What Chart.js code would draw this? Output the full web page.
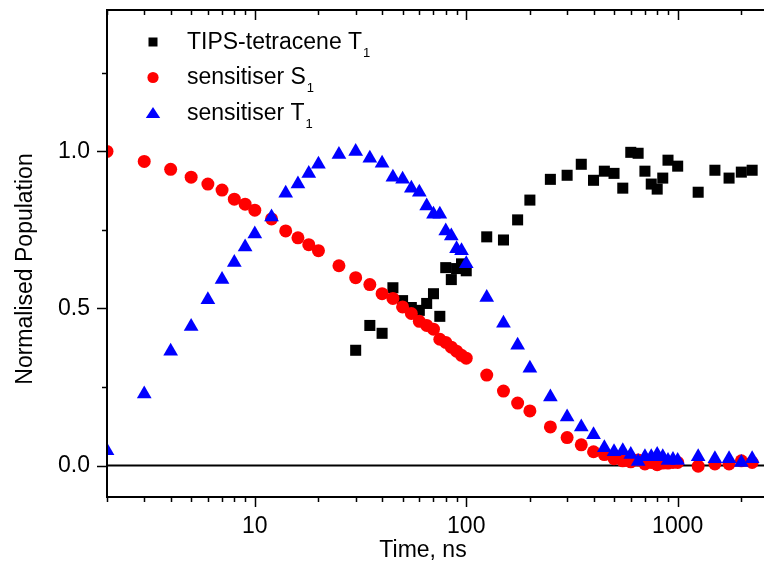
<!DOCTYPE html>
<html>
<head>
<meta charset="utf-8">
<script src="https://cdn.jsdelivr.net/npm/chart.js@4.4.0/dist/chart.umd.min.js"></script>
<style>
  html, body { margin: 0; padding: 0; background: #fff; overflow: hidden; }
  #wrap { width: 764px; height: 564px; position: relative; }
</style>
</head>
<body>
<div id="wrap"><canvas id="chart"></canvas></div>
<script>
// time axis (ns) shared by both sensitiser series
const times = [2, 3, 4, 5, 6, 7, 8, 9, 10, 12, 14, 16, 18, 20, 25, 30, 35, 40, 45, 50, 55, 60, 65, 70, 75, 80, 85, 90, 95, 100,
  125, 150, 175, 200, 250, 300, 350, 400, 450, 500, 550, 600, 650, 700, 750, 800, 850, 900, 950, 1000, 1250, 1500, 1750, 2000, 2250]
const sensS1 = [1.0, 0.968, 0.943, 0.918, 0.896, 0.877, 0.848, 0.832, 0.813, 0.785, 0.747, 0.725, 0.703, 0.684, 0.636, 0.598, 0.576, 0.547, 0.532, 0.505,
  0.484, 0.459, 0.446, 0.434, 0.402, 0.392, 0.377, 0.364, 0.351, 0.342, 0.288, 0.237, 0.199, 0.174, 0.123, 0.089, 0.066, 0.044, 0.035, 0.022,
  0.015, 0.012, 0.018, 0.005, 0.01, 0.003, 0.008, 0.008, 0.01, 0.01, -0.002, 0.005, 0.005, 0.015, 0.01]
const sensT1 = [0.047, 0.228, 0.364, 0.443, 0.528, 0.592, 0.646, 0.696, 0.737, 0.791, 0.867, 0.896, 0.930, 0.959, 0.99, 1.0, 0.978, 0.962, 0.918, 0.911,
  0.883, 0.870, 0.826, 0.80, 0.80, 0.747, 0.731, 0.690, 0.684, 0.642, 0.535, 0.453, 0.383, 0.310, 0.218, 0.155, 0.123, 0.098, 0.057, 0.044,
  0.047, 0.035, 0.013, 0.028, 0.028, 0.035, 0.028, 0.016, 0.019, 0.016, 0.028, 0.022, 0.022, 0.01, 0.022]

const tipsTimes = [30, 35, 40, 45, 50, 55, 60, 65, 70, 75, 80, 85, 90, 95, 100, 125, 150, 175, 200, 250, 300, 350, 400, 450, 500,
  550, 600, 650, 700, 750, 800, 850, 900, 1000, 1250, 1500, 1750, 2000, 2250]
const tipsT1 = [0.367, 0.446, 0.421, 0.566, 0.525, 0.503, 0.494, 0.516, 0.547, 0.475, 0.63, 0.592, 0.627, 0.642, 0.62, 0.728, 0.718, 0.782, 0.845, 0.911,
  0.924, 0.959, 0.908, 0.937, 0.930, 0.883, 0.997, 0.994, 0.937, 0.896, 0.880, 0.915, 0.972, 0.953, 0.870, 0.940, 0.915, 0.934, 0.940]

const seriesNames = ['TIPS-tetracene T', 'sensitiser S', 'sensitiser T']
const seriesSubs = ['1', '1', '1']
const seriesColors = ['#000000', '#ff0000', '#0000ff']
const seriesStyles = ['rect', 'circle', 'triangle']

const yTickValues = [0, 0.5, 1.0]
const yMinorTicks = [0.25, 0.75, 1.25]
const xTickLabels = [10, 100, 1000]

const FONT = '"Liberation Sans", Arial, sans-serif'

const toPoints = (xs, ys) => xs.map((x, i) => ({ x: x, y: ys[i] }))

// axes frame, ticks, titles and legend (Origin style)
const framePlugin = {
  id: 'frame',
  beforeDatasetsDraw(chart) {
    const ctx = chart.ctx
    const a = chart.chartArea
    const y0 = chart.scales.y.getPixelForValue(0)
    ctx.save()
    ctx.strokeStyle = '#000'
    ctx.lineWidth = 2
    ctx.beginPath()
    ctx.moveTo(a.left, y0)
    ctx.lineTo(a.right, y0)
    ctx.stroke()
    ctx.restore()
  },
  afterDatasetsDraw(chart) {
    const ctx = chart.ctx
    const a = chart.chartArea
    const xs = chart.scales.x
    const ys = chart.scales.y
    ctx.save()
    ctx.strokeStyle = '#000'
    ctx.lineWidth = 2
    ctx.beginPath()
    ctx.moveTo(a.right + 2, a.top)
    ctx.lineTo(a.left, a.top)
    ctx.lineTo(a.left, a.bottom)
    ctx.lineTo(a.right + 2, a.bottom)
    ctx.stroke()

    // x ticks: bottom outward, top inward
    ctx.lineWidth = 1.5
    ctx.beginPath()
    for (let dec = 1; dec <= 1000; dec *= 10) {
      for (let m = 1; m <= 9; m++) {
        const v = m * dec
        if (v < xs.min || v > xs.max) continue
        const px = Math.round(xs.getPixelForValue(v)) + 0.5
        const len = m === 1 ? 10 : 5
        ctx.moveTo(px, a.bottom)
        ctx.lineTo(px, a.bottom + len)
        ctx.moveTo(px, a.top)
        ctx.lineTo(px, a.top + len)
      }
    }
    // y ticks outward
    yTickValues.concat(yMinorTicks).forEach((v) => {
      const py = Math.round(ys.getPixelForValue(v)) + 0.5
      const len = yTickValues.includes(v) ? 10 : 5
      ctx.moveTo(a.left, py)
      ctx.lineTo(a.left - len, py)
    })
    ctx.stroke()

    // axis titles
    ctx.fillStyle = '#000'
    ctx.font = '23px ' + FONT
    ctx.textAlign = 'center'
    ctx.textBaseline = 'alphabetic'
    ctx.fillText('Time, ns', 423, 557)
    ctx.save()
    ctx.translate(32, 269)
    ctx.rotate(-Math.PI / 2)
    ctx.fillText('Normalised Population', 0, 0)
    ctx.restore()

    // legend
    ctx.textAlign = 'left'
    seriesNames.forEach((name, i) => {
      const mx = 153
      const my = 42 + 35.5 * i
      ctx.fillStyle = seriesColors[i]
      ctx.beginPath()
      if (seriesStyles[i] === 'rect') {
        ctx.rect(mx - 4.5, my - 4.5, 9, 9)
      } else if (seriesStyles[i] === 'circle') {
        ctx.arc(mx, my, 5.6, 0, Math.PI * 2)
      } else {
        ctx.moveTo(mx, my - 6)
        ctx.lineTo(mx + 7.2, my + 5)
        ctx.lineTo(mx - 7.2, my + 5)
        ctx.closePath()
      }
      ctx.fill()

      const by = 48.5 + 35.8 * i
      ctx.fillStyle = '#000'
      ctx.font = '23px ' + FONT
      ctx.fillText(name, 187, by)
      const w = ctx.measureText(name).width
      ctx.font = '13px ' + FONT
      ctx.fillText(seriesSubs[i], 187 + w + 1, by + 8)
    })
    ctx.restore()
  }
}

new Chart(document.getElementById('chart'), {
  type: 'scatter',
  data: {
    datasets: [
      {
        label: seriesNames[0] + '₁',
        data: toPoints(tipsTimes, tipsT1),
        pointStyle: 'rect',
        pointRadius: 7.8,
        pointHoverRadius: 7.8,
        backgroundColor: seriesColors[0],
        borderWidth: 0,
        order: 3,
      },
      {
        label: seriesNames[1] + '₁',
        data: toPoints(times, sensS1),
        pointStyle: 'circle',
        pointRadius: 6.5,
        pointHoverRadius: 6.5,
        backgroundColor: seriesColors[1],
        borderWidth: 0,
        order: 2,
      },
      {
        label: seriesNames[2] + '₁',
        data: toPoints(times, sensT1),
        pointStyle: 'triangle',
        pointRadius: 8.5,
        pointHoverRadius: 8.5,
        backgroundColor: seriesColors[2],
        borderWidth: 0,
        order: 1,
      },
    ],
  },
  options: {
    responsive: true,
    maintainAspectRatio: false,
    animation: false,
    // no auto padding for the point radius: the plot runs to the canvas edge
    layout: { autoPadding: false, padding: { top: 10, left: 0, right: 0, bottom: 0 } },
    plugins: {
      legend: { display: false },
      tooltip: { enabled: false },
    },
    scales: {
      x: {
        type: 'logarithmic',
        min: 2,
        max: 2560,
        grid: { display: false, drawTicks: false },
        border: { display: false },
        ticks: {
          autoSkip: false,
          maxRotation: 0,
          padding: 16,
          color: '#000',
          font: { family: FONT, size: 23 },
          callback: (v) => {
            const t = xTickLabels.find((t) => Math.abs(t - v) < 1e-6 * t)
            return t ? String(t) : ''
          },
        },
        afterFit: (s) => {
          s.height = 67
          s.paddingLeft = 0
          s.paddingRight = 0
        },
      },
      y: {
        type: 'linear',
        min: -0.1,
        max: 1.45,
        grid: { display: false, drawTicks: false },
        border: { display: false },
        afterBuildTicks: (s) => {
          s.ticks = yTickValues.map((v) => ({ value: v }))
        },
        ticks: {
          padding: 17,
          color: '#000',
          font: { family: FONT, size: 23 },
          callback: (v) => Number(v).toFixed(1),
        },
        afterFit: (s) => {
          s.width = 107
          s.paddingTop = 0
          s.paddingBottom = 0
        },
      },
    },
  },
  plugins: [framePlugin],
})
</script>
</body>
</html>
